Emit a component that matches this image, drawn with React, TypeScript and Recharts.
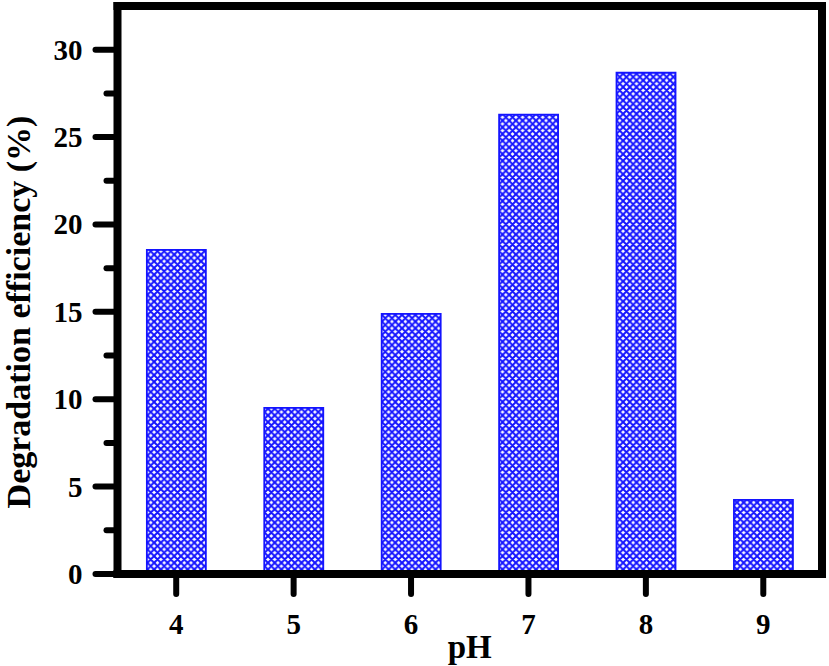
import { BarChart, Bar, XAxis, YAxis, ReferenceLine } from "recharts";

const PH_LEVELS = ["4", "5", "6", "7", "8", "9"];
const EFFICIENCY = [18.55, 9.5, 14.88, 26.28, 28.68, 4.24];
const Y_TICKS = [0, 2.5, 5, 7.5, 10, 12.5, 15, 17.5, 20, 22.5, 25, 27.5, 30];
const Y_MAX = 32.5;

const data = PH_LEVELS.map((ph, i) => ({ ph, value: EFFICIENCY[i] }));

const FONT = '"Liberation Serif", "Times New Roman", serif';
const BLUE = "#1414ff";
const AXIS_LINE = { stroke: "#000", strokeWidth: 8, strokeLinecap: "square" as const };

// y ticks: majors every 5 with a label, minors at the halves
function YTick({ x, y, payload }: any) {
  const v = payload.value as number;
  const major = v % 5 === 0;
  return (
    <g>
      <line
        x1={x}
        x2={x - (major ? 22 : 11)}
        y1={y}
        y2={y}
        stroke="#000"
        strokeWidth={6}
        strokeLinecap="round"
      />
      {major && (
        <text
          x={x - 35}
          y={y + 10}
          textAnchor="end"
          fontFamily={FONT}
          fontWeight="bold"
          fontSize={29}
          fill="#000"
        >
          {v}
        </text>
      )}
    </g>
  );
}

function XTick({ x, y, payload }: any) {
  return (
    <g>
      <line x1={x} x2={x} y1={y} y2={y + 20} stroke="#000" strokeWidth={6} strokeLinecap="round" />
      <text
        x={x}
        y={y + 60}
        textAnchor="middle"
        fontFamily={FONT}
        fontWeight="bold"
        fontSize={29}
        fill="#000"
      >
        {payload.value}
      </text>
    </g>
  );
}

export default function App() {
  return (
    <div style={{ position: "fixed", left: 0, top: 0, background: "#fff" }}>
      <BarChart
        width={829}
        height={666}
        data={data}
        margin={{ top: 6, right: 7, bottom: 32, left: 57.5 }}
        barCategoryGap="25%"
      >
        <defs>
          <pattern id="hatch" patternUnits="userSpaceOnUse" width={6.7} height={6.7}>
            <rect width={6.7} height={6.7} fill="#fff" />
            <path
              d="M0,0 L6.7,6.7 M6.7,0 L0,6.7 M-1,5.7 L1,7.7 M5.7,-1 L7.7,1 M-1,1 L1,-1 M5.7,7.7 L7.7,5.7"
              stroke={BLUE}
              strokeWidth={2}
            />
          </pattern>
        </defs>
        <XAxis
          dataKey="ph"
          height={60}
          axisLine={AXIS_LINE}
          tickLine={false}
          tickSize={0}
          tickMargin={0}
          tick={<XTick />}
          interval={0}
          label={{
            value: "pH",
            content: ({ viewBox }: any) => (
              <text
                x={viewBox.x + viewBox.width / 2}
                y={658}
                textAnchor="middle"
                fontFamily={FONT}
                fontWeight="bold"
                fontSize={33}
                fill="#000"
              >
                pH
              </text>
            ),
          }}
        />
        <YAxis
          width={60}
          domain={[0, Y_MAX]}
          ticks={Y_TICKS}
          interval={0}
          axisLine={AXIS_LINE}
          tickLine={false}
          tickSize={0}
          tickMargin={0}
          tick={<YTick />}
          label={{
            value: "Degradation efficiency (%)",
            content: () => (
              <text
                x={30}
                y={312}
                transform="rotate(-90 30 312)"
                textAnchor="middle"
                fontFamily={FONT}
                fontWeight="bold"
                fontSize={34}
                fill="#000"
              >
                Degradation efficiency (%)
              </text>
            ),
          }}
        />
        <Bar
          dataKey="value"
          fill="url(#hatch)"
          stroke={BLUE}
          strokeWidth={1.8}
          isAnimationActive={false}
        />
        {/* closing frame: top and right edges */}
        <ReferenceLine y={Y_MAX} stroke="#000" strokeWidth={8} strokeLinecap="square" />
        <ReferenceLine x="9" position="end" stroke="#000" strokeWidth={8} strokeLinecap="square" />
      </BarChart>
    </div>
  );
}
